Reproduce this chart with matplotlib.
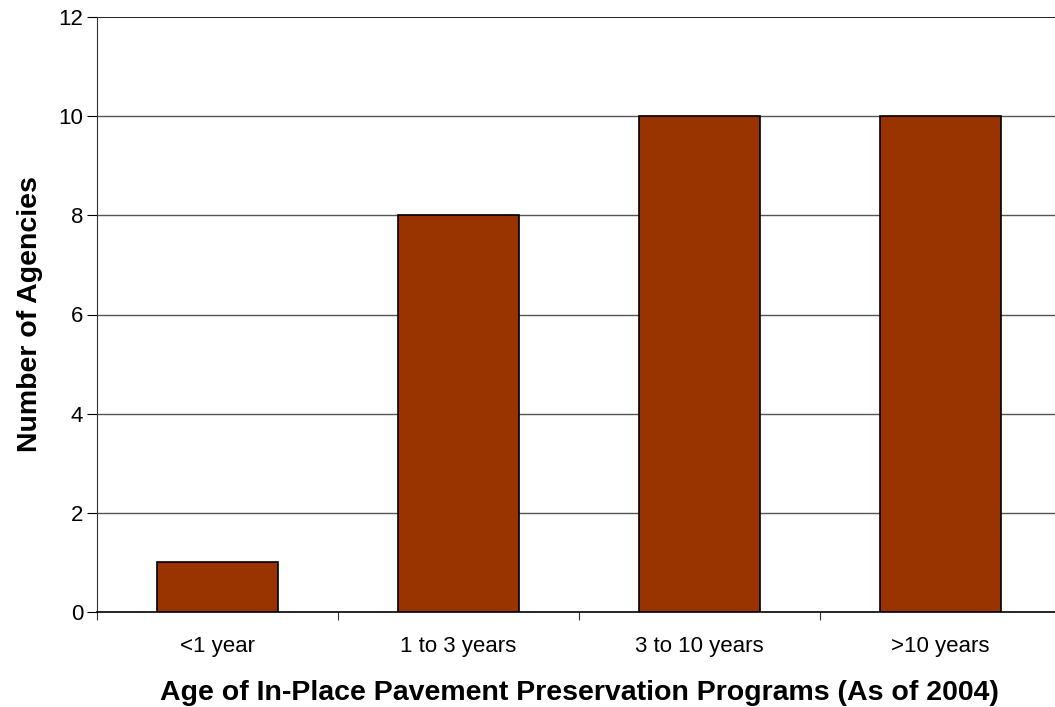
import matplotlib
matplotlib.use("Agg")
import matplotlib.pyplot as plt
import numpy as np

plt.rcParams['font.family'] = ['Liberation Sans', 'DejaVu Sans']

categories = ["<1 year", "1 to 3 years", "3 to 10 years", ">10 years"]
agencies = [1, 8, 10, 10]
y_ticks = [0, 2, 4, 6, 8, 10, 12]

fig = plt.figure(figsize=(10.55, 7.07), dpi=100)
ax = fig.add_axes([97/1055, 95/707, 964/1055, 595/707])

x = np.arange(len(categories)) + 0.5
ax.bar(x, agencies, width=0.5, color="#993300", edgecolor="black", linewidth=1.2, zorder=3)

ax.set_xlim(0, len(categories))
ax.set_ylim(0, 12)
ax.set_yticks(y_ticks)
ax.set_yticklabels([str(v) for v in y_ticks], fontsize=16)
for v in y_ticks[1:-1]:
    ax.axhline(v, color="#555555", linewidth=1.0, zorder=1)
ax.axhline(12, color="black", linewidth=1.2, zorder=1)

ax.set_xticks(np.arange(len(categories) + 1))
ax.set_xticklabels([])
ax.set_xticks(x, minor=True)
ax.set_xticklabels(categories, minor=True, fontsize=16)
ax.tick_params(axis="x", which="minor", length=0, pad=17)
ax.tick_params(axis="x", which="major", length=6, direction="out", color="#333333")
ax.tick_params(axis="y", length=7, direction="out", pad=3)

for side in ["top", "right"]:
    ax.spines[side].set_visible(False)
ax.spines["left"].set_color("#333333")
ax.spines["bottom"].set_linewidth(1.2)

ax.set_xlabel("Age of In-Place Pavement Preservation Programs (As of 2004)",
              fontsize=20.5, fontweight="bold", labelpad=17)
ax.set_ylabel("Number of Agencies", fontsize=20.5, fontweight="bold", labelpad=11)

fig.savefig("out.png", dpi=100)
